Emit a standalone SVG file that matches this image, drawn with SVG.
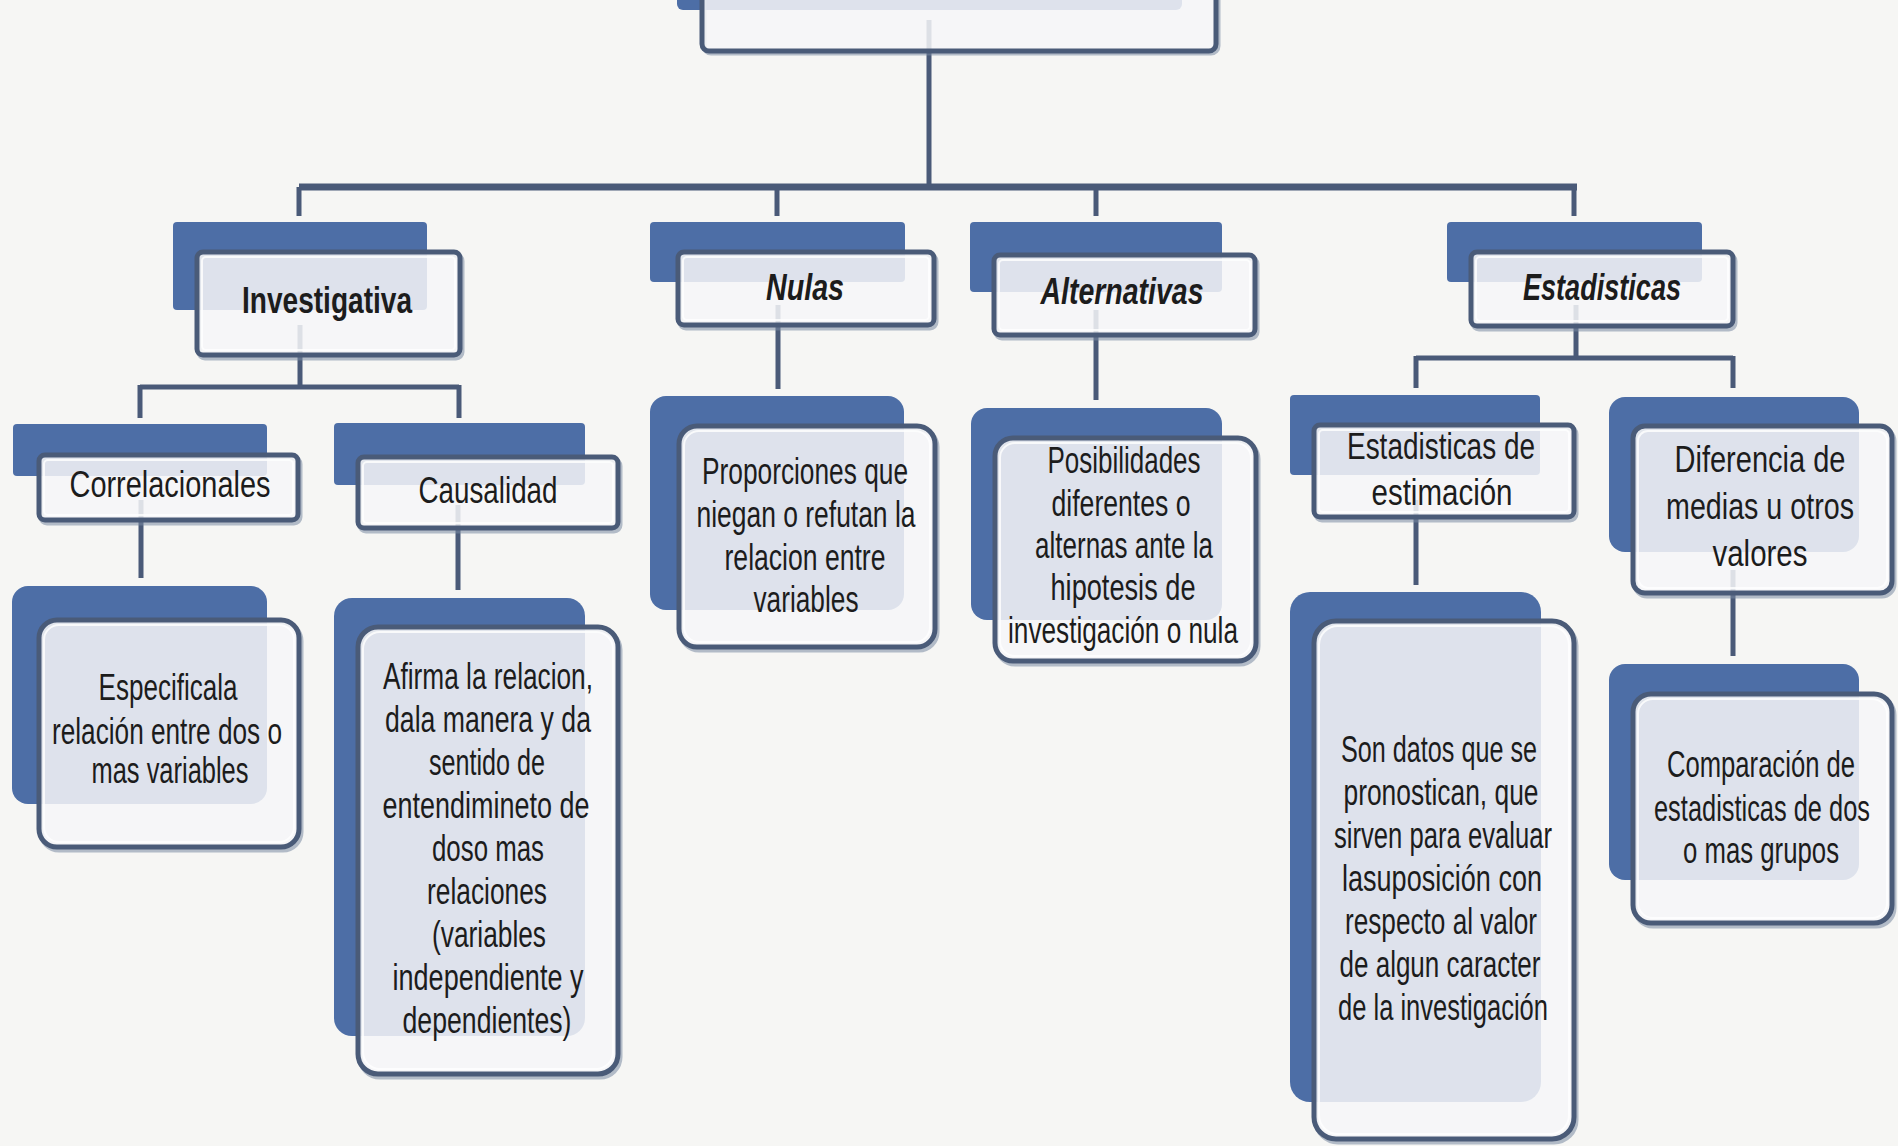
<svg xmlns="http://www.w3.org/2000/svg" width="1898" height="1146" viewBox="0 0 1898 1146">
<style>
.bk{fill:#4d6ea6}
.sh{fill:none;stroke:#7a8aa3;stroke-width:5;opacity:.55}
.fr{fill:#f6f6f8;fill-opacity:.86;stroke:#4a5b78;stroke-width:5}
.in{fill:none;stroke:#ffffff;stroke-width:2;opacity:.8}
.t{font-family:"Liberation Sans",Arial,sans-serif;font-size:36px;fill:#1c1c1c;text-anchor:middle}
.b{font-weight:bold}
.i{font-style:italic}
.cn{stroke:#4a5a78;stroke-width:5;fill:none}
.bus{stroke:#4a5a78;stroke-width:7;fill:none}
</style>
<rect x="0" y="0" width="1898" height="1146" fill="#f6f6f4"/>
<g id="connectors">
<line class="cn" x1="929" y1="20" x2="929" y2="187"/>
<line class="bus" x1="299" y1="187" x2="1577" y2="187"/>
<line class="cn" x1="299" y1="187" x2="299" y2="216"/>
<line class="cn" x1="777" y1="187" x2="777" y2="216"/>
<line class="cn" x1="1096" y1="187" x2="1096" y2="216"/>
<line class="cn" x1="1574" y1="187" x2="1574" y2="216"/>
<line class="cn" x1="300" y1="325" x2="300" y2="387"/>
<line class="cn" x1="140" y1="387" x2="459" y2="387"/>
<line class="cn" x1="140" y1="385" x2="140" y2="418"/>
<line class="cn" x1="459" y1="385" x2="459" y2="418"/>
<line class="cn" x1="141" y1="500" x2="141" y2="578"/>
<line class="cn" x1="458" y1="505" x2="458" y2="590"/>
<line class="cn" x1="778" y1="305" x2="778" y2="389"/>
<line class="cn" x1="1096" y1="310" x2="1096" y2="400"/>
<line class="cn" x1="1576" y1="305" x2="1576" y2="358"/>
<line class="cn" x1="1416" y1="358" x2="1733" y2="358"/>
<line class="cn" x1="1416" y1="356" x2="1416" y2="388"/>
<line class="cn" x1="1733" y1="356" x2="1733" y2="388"/>
<line class="cn" x1="1416" y1="500" x2="1416" y2="585"/>
<line class="cn" x1="1733" y1="570" x2="1733" y2="656"/>
</g>
<g id="n-top">
<rect class="bk" x="677" y="-60" width="505" height="70" rx="6"/>
<rect class="sh" x="704" y="-38" width="514" height="91" rx="7"/>
<rect class="fr" x="702" y="-40" width="514" height="91" rx="7"/>
</g>
<g id="n-investigativa">
<rect class="bk" x="173" y="222" width="254" height="88" rx="4"/>
<rect class="sh" x="199" y="255" width="263" height="103" rx="6"/>
<rect class="fr" x="197" y="252" width="263" height="103" rx="6"/>
<rect class="in" x="202" y="257" width="253" height="93" rx="4"/>
<text class="t b" x="327" y="313" textLength="170" lengthAdjust="spacingAndGlyphs">Investigativa</text>
</g>
<g id="n-nulas">
<rect class="bk" x="650" y="222" width="255" height="60" rx="4"/>
<rect class="sh" x="680" y="255" width="256" height="73" rx="6"/>
<rect class="fr" x="678" y="252" width="256" height="73" rx="6"/>
<rect class="in" x="683" y="257" width="246" height="63" rx="4"/>
<text class="t b i" x="805" y="300" textLength="78" lengthAdjust="spacingAndGlyphs">Nulas</text>
</g>
<g id="n-alternativas">
<rect class="bk" x="970" y="222" width="252" height="70" rx="4"/>
<rect class="sh" x="996" y="258" width="261" height="80" rx="6"/>
<rect class="fr" x="994" y="255" width="261" height="80" rx="6"/>
<rect class="in" x="999" y="260" width="251" height="70" rx="4"/>
<text class="t b i" x="1122" y="304" textLength="163" lengthAdjust="spacingAndGlyphs">Alternativas</text>
</g>
<g id="n-estadisticas">
<rect class="bk" x="1447" y="222" width="255" height="60" rx="4"/>
<rect class="sh" x="1473" y="255" width="262" height="74" rx="6"/>
<rect class="fr" x="1471" y="252" width="262" height="74" rx="6"/>
<rect class="in" x="1476" y="257" width="252" height="64" rx="4"/>
<text class="t b i" x="1602" y="300" textLength="158" lengthAdjust="spacingAndGlyphs">Estadisticas</text>
</g>
<g id="n-correlacionales">
<rect class="bk" x="13" y="424" width="254" height="52" rx="4"/>
<rect class="sh" x="41" y="458" width="259" height="65" rx="6"/>
<rect class="fr" x="39" y="455" width="259" height="65" rx="6"/>
<rect class="in" x="44" y="460" width="249" height="55" rx="4"/>
<text class="t" x="170" y="497" textLength="201" lengthAdjust="spacingAndGlyphs">Correlacionales</text>
</g>
<g id="n-causalidad">
<rect class="bk" x="334" y="423" width="251" height="62" rx="4"/>
<rect class="sh" x="360" y="460" width="260" height="71" rx="6"/>
<rect class="fr" x="358" y="457" width="260" height="71" rx="6"/>
<rect class="in" x="363" y="462" width="250" height="61" rx="4"/>
<text class="t" x="488" y="503" textLength="139" lengthAdjust="spacingAndGlyphs">Causalidad</text>
</g>
<g id="n-especifica">
<rect class="bk" x="12" y="586" width="255" height="218" rx="16"/>
<rect class="sh" x="41" y="623" width="260" height="227" rx="18"/>
<rect class="fr" x="39" y="620" width="260" height="227" rx="18"/>
<rect class="in" x="44" y="625" width="250" height="217" rx="15"/>
<text class="t" x="168" y="700" textLength="139" lengthAdjust="spacingAndGlyphs">Especificala</text>
<text class="t" x="167" y="744" textLength="230" lengthAdjust="spacingAndGlyphs">relación entre dos o</text>
<text class="t" x="170" y="783" textLength="157" lengthAdjust="spacingAndGlyphs">mas variables</text>
</g>
<g id="n-afirma">
<rect class="bk" x="334" y="598" width="251" height="438" rx="18"/>
<rect class="sh" x="360" y="630" width="260" height="447" rx="20"/>
<rect class="fr" x="358" y="627" width="260" height="447" rx="20"/>
<rect class="in" x="363" y="632" width="250" height="437" rx="17"/>
<text class="t" x="488" y="689" textLength="210" lengthAdjust="spacingAndGlyphs">Afirma la relacion,</text>
<text class="t" x="488" y="732" textLength="206" lengthAdjust="spacingAndGlyphs">dala manera y da</text>
<text class="t" x="487" y="775" textLength="116" lengthAdjust="spacingAndGlyphs">sentido de</text>
<text class="t" x="486" y="818" textLength="207" lengthAdjust="spacingAndGlyphs">entendimineto de</text>
<text class="t" x="488" y="861" textLength="112" lengthAdjust="spacingAndGlyphs">doso mas</text>
<text class="t" x="487" y="904" textLength="120" lengthAdjust="spacingAndGlyphs">relaciones</text>
<text class="t" x="489" y="947" textLength="114" lengthAdjust="spacingAndGlyphs">(variables</text>
<text class="t" x="488" y="990" textLength="191" lengthAdjust="spacingAndGlyphs">independiente y</text>
<text class="t" x="487" y="1033" textLength="169" lengthAdjust="spacingAndGlyphs">dependientes)</text>
</g>
<g id="n-proporciones">
<rect class="bk" x="650" y="396" width="254" height="214" rx="16"/>
<rect class="sh" x="681" y="429" width="256" height="221" rx="18"/>
<rect class="fr" x="679" y="426" width="256" height="221" rx="18"/>
<rect class="in" x="684" y="431" width="246" height="211" rx="15"/>
<text class="t" x="805" y="484" textLength="206" lengthAdjust="spacingAndGlyphs">Proporciones que</text>
<text class="t" x="806" y="527" textLength="219" lengthAdjust="spacingAndGlyphs">niegan o refutan la</text>
<text class="t" x="805" y="570" textLength="161" lengthAdjust="spacingAndGlyphs">relacion entre</text>
<text class="t" x="806" y="612" textLength="105" lengthAdjust="spacingAndGlyphs">variables</text>
</g>
<g id="n-posibilidades">
<rect class="bk" x="971" y="408" width="251" height="212" rx="16"/>
<rect class="sh" x="997" y="441" width="261" height="223" rx="18"/>
<rect class="fr" x="995" y="438" width="261" height="223" rx="18"/>
<rect class="in" x="1000" y="443" width="251" height="213" rx="15"/>
<text class="t" x="1124" y="473" textLength="153" lengthAdjust="spacingAndGlyphs">Posibilidades</text>
<text class="t" x="1121" y="516" textLength="139" lengthAdjust="spacingAndGlyphs">diferentes o</text>
<text class="t" x="1124" y="558" textLength="178" lengthAdjust="spacingAndGlyphs">alternas ante la</text>
<text class="t" x="1123" y="600" textLength="145" lengthAdjust="spacingAndGlyphs">hipotesis de</text>
<text class="t" x="1123" y="643" textLength="230" lengthAdjust="spacingAndGlyphs">investigación o nula</text>
</g>
<g id="n-estimacion">
<rect class="bk" x="1290" y="395" width="250" height="80" rx="4"/>
<rect class="sh" x="1316" y="428" width="260" height="92" rx="6"/>
<rect class="fr" x="1314" y="425" width="260" height="92" rx="6"/>
<rect class="in" x="1319" y="430" width="250" height="82" rx="4"/>
<text class="t" x="1441" y="459" textLength="188" lengthAdjust="spacingAndGlyphs">Estadisticas de</text>
<text class="t" x="1442" y="505" textLength="141" lengthAdjust="spacingAndGlyphs">estimación</text>
</g>
<g id="n-diferencia">
<rect class="bk" x="1609" y="397" width="250" height="155" rx="16"/>
<rect class="sh" x="1635" y="429" width="259" height="167" rx="12"/>
<rect class="fr" x="1633" y="426" width="259" height="167" rx="12"/>
<rect class="in" x="1638" y="431" width="249" height="157" rx="10"/>
<text class="t" x="1760" y="472" textLength="171" lengthAdjust="spacingAndGlyphs">Diferencia de</text>
<text class="t" x="1760" y="519" textLength="188" lengthAdjust="spacingAndGlyphs">medias u otros</text>
<text class="t" x="1760" y="566" textLength="95" lengthAdjust="spacingAndGlyphs">valores</text>
</g>
<g id="n-sondatos">
<rect class="bk" x="1290" y="592" width="251" height="510" rx="20"/>
<rect class="sh" x="1316" y="624" width="260" height="518" rx="22"/>
<rect class="fr" x="1314" y="621" width="260" height="518" rx="22"/>
<rect class="in" x="1319" y="626" width="250" height="508" rx="19"/>
<text class="t" x="1439" y="762" textLength="196" lengthAdjust="spacingAndGlyphs">Son datos que se</text>
<text class="t" x="1441" y="805" textLength="195" lengthAdjust="spacingAndGlyphs">pronostican, que</text>
<text class="t" x="1443" y="848" textLength="218" lengthAdjust="spacingAndGlyphs">sirven para evaluar</text>
<text class="t" x="1442" y="891" textLength="200" lengthAdjust="spacingAndGlyphs">lasuposición con</text>
<text class="t" x="1441" y="934" textLength="192" lengthAdjust="spacingAndGlyphs">respecto al valor</text>
<text class="t" x="1440" y="977" textLength="201" lengthAdjust="spacingAndGlyphs">de algun caracter</text>
<text class="t" x="1443" y="1020" textLength="210" lengthAdjust="spacingAndGlyphs">de la investigación</text>
</g>
<g id="n-comparacion">
<rect class="bk" x="1609" y="664" width="250" height="216" rx="16"/>
<rect class="sh" x="1635" y="697" width="259" height="229" rx="18"/>
<rect class="fr" x="1633" y="694" width="259" height="229" rx="18"/>
<rect class="in" x="1638" y="699" width="249" height="219" rx="15"/>
<text class="t" x="1761" y="777" textLength="188" lengthAdjust="spacingAndGlyphs">Comparación de</text>
<text class="t" x="1762" y="821" textLength="216" lengthAdjust="spacingAndGlyphs">estadisticas de dos</text>
<text class="t" x="1761" y="863" textLength="156" lengthAdjust="spacingAndGlyphs">o mas grupos</text>
</g>
</svg>
